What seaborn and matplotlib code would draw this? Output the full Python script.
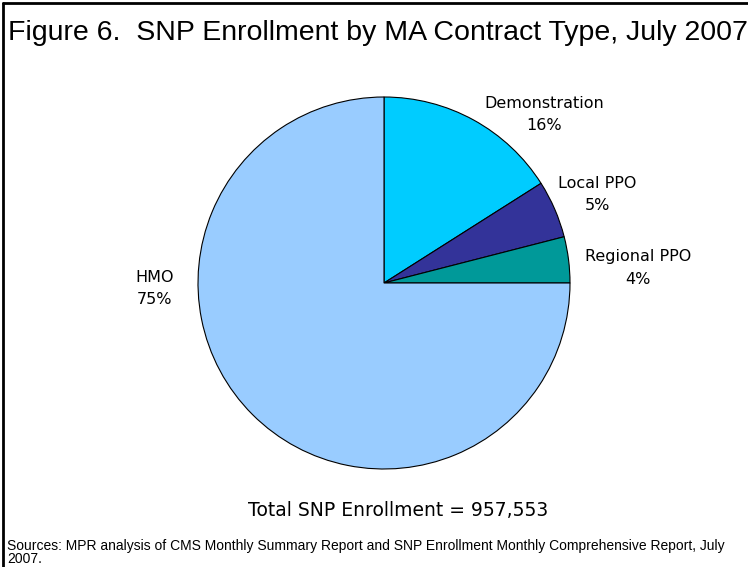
import matplotlib
matplotlib.use("Agg")
import matplotlib.pyplot as plt
import seaborn as sns
from matplotlib.lines import Line2D

sns.set_style("white")
plt.rcParams['font.family'] = ['DejaVu Sans']
plt.rcParams['text.color'] = 'black'
narrow = ['Liberation Sans', 'DejaVu Sans']

# data
categories = ['Demonstration', 'Local PPO', 'Regional PPO', 'HMO']
shares = [16, 5, 4, 75]
colors = ['#00CCFF', '#333399', '#009999', '#99CCFF']
total_enrollment = 957553

W, H = 748, 567
fig = plt.figure(figsize=(W / 100, H / 100), dpi=100)
ax = fig.add_axes([0, 0, 1, 1])

# pie, clockwise from 12 o'clock
ax.pie(shares, colors=colors, startangle=90, counterclock=False,
       center=(384, H - 283), radius=186,
       wedgeprops=dict(edgecolor='black', linewidth=0.8))
ax.set_xlim(0, W)
ax.set_ylim(0, H)
ax.set_aspect('equal')
ax.axis('off')

label_pos = {
    'Demonstration': (544, 103),
    'Local PPO': (597, 183),
    'Regional PPO': (638, 256),
    'HMO': (155, 277),
}
for cat, val in zip(categories, shares):
    x, y = label_pos[cat]
    ax.text(x, H - y, cat, ha='center', va='center', fontsize=11.5)
    ax.text(x, H - y - 23, f"{val}%", ha='center', va='center', fontsize=11.5)

# frame (top and left edges only visible)
fig.add_artist(Line2D([3 / W, 3 / W], [0, 1 - 3 / H], transform=fig.transFigure,
                      color='black', linewidth=2))
fig.add_artist(Line2D([3 / W, 1], [1 - 3 / H, 1 - 3 / H], transform=fig.transFigure,
                      color='black', linewidth=2))

fig.text(8 / W, 1 - 40 / H, "Figure 6.  SNP Enrollment by MA Contract Type, July 2007",
         ha='left', va='baseline', fontsize=20.5, family=narrow)
fig.text(398 / W, 1 - 511 / H, f"Total SNP Enrollment = {total_enrollment:,}",
         ha='center', va='center', fontsize=13.5)
fig.text(7 / W, 1 - 566 / H,
         "Sources: MPR analysis of CMS Monthly Summary Report and SNP Enrollment Monthly Comprehensive Report, July\n2007.",
         ha='left', va='bottom', fontsize=10, linespacing=0.95, family=narrow)

fig.savefig('out.png', dpi=100)
